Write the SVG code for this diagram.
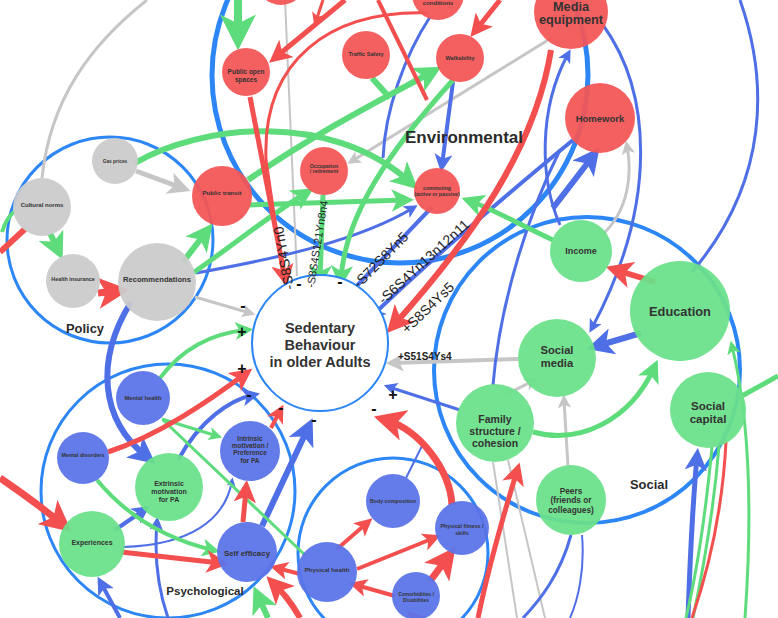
<svg xmlns="http://www.w3.org/2000/svg" width="778" height="618" viewBox="0 0 778 618">
<style>
.ring{fill:none;stroke:#2d86f5}
.e{fill:none;stroke-linecap:butt}
.r{stroke:#f44f4f}.g{stroke:#5edc7c}.b{stroke:#4f6fe6}.y{stroke:#c6c6c6}
.nr{fill:#f35656;fill-opacity:0.94}.ng{fill:#6ae08a;fill-opacity:0.94}.nb{fill:#5a74e8;fill-opacity:0.94}.ny{fill:#cbcbcb;fill-opacity:0.94}
text{font-family:"Liberation Sans",Arial,sans-serif;font-weight:bold;fill:#333;text-anchor:middle}
.lab{font-weight:normal;fill:#1e1e1e}
.sg{font-size:16px;fill:#111}
.grp{fill:#2a2a2a}
</style>
<defs>
<marker id="mr" viewBox="0 0 10 10" refX="6" refY="5" markerWidth="4.5" markerHeight="4.5" orient="auto" markerUnits="strokeWidth"><path d="M0,0 L10,5 L0,10 L2.5,5 z" fill="#f44f4f"/></marker>
<marker id="mg" viewBox="0 0 10 10" refX="6" refY="5" markerWidth="4.5" markerHeight="4.5" orient="auto" markerUnits="strokeWidth"><path d="M0,0 L10,5 L0,10 L2.5,5 z" fill="#5edc7c"/></marker>
<marker id="mb" viewBox="0 0 10 10" refX="6" refY="5" markerWidth="4.5" markerHeight="4.5" orient="auto" markerUnits="strokeWidth"><path d="M0,0 L10,5 L0,10 L2.5,5 z" fill="#4f6fe6"/></marker>
<marker id="my" viewBox="0 0 10 10" refX="6" refY="5" markerWidth="4.5" markerHeight="4.5" orient="auto" markerUnits="strokeWidth"><path d="M0,0 L10,5 L0,10 L2.5,5 z" fill="#c6c6c6"/></marker>
</defs>
<rect width="778" height="618" fill="#ffffff"/>

<g id="groups">
<circle class="ring" cx="400" cy="75" r="188" stroke-width="5"/>
<circle class="ring" cx="110" cy="240" r="103" stroke-width="3"/>
<circle class="ring" cx="587" cy="370" r="153" stroke-width="4"/>
<circle class="ring" cx="168" cy="491" r="127" stroke-width="3"/>
<circle class="ring" cx="393" cy="553" r="95" stroke-width="3"/>
</g>

<g id="connectors">
<!-- gray -->
<path class="e y" stroke-width="3" d="M42,178 C50,100 90,45 147,0"/>
<path class="e y" stroke-width="5" d="M136,171 L182,188" marker-end="url(#my)"/>
<path class="e y" stroke-width="3" d="M195,297 L250,313" marker-end="url(#my)"/>
<path class="e y" stroke-width="2" d="M285,0 L297,276"/>
<path class="e y" stroke-width="3" d="M553,37 L352,161" marker-end="url(#my)"/>
<path class="e y" stroke-width="4" d="M518,359 L393,363" marker-end="url(#my)"/>
<path class="e y" stroke-width="3" d="M505,395 L533,381" marker-end="url(#my)"/>
<path class="e y" stroke-width="3" d="M568,466 L564,400" marker-end="url(#my)"/>
<path class="e y" stroke-width="3" d="M601,236 C630,210 632,172 627,146" marker-end="url(#my)"/>
<path class="e y" stroke-width="2" d="M493,462 L517,618"/>
<path class="e y" stroke-width="2" d="M508,460 L545,618"/>
<!-- blue -->
<path class="e b" stroke-width="3" d="M430,17 C405,55 385,110 383,158"/>
<path class="e b" stroke-width="4" d="M453,82 L442,165" marker-end="url(#mb)"/>
<path class="e b" stroke-width="3" d="M196,273 C280,258 360,240 413,208" marker-end="url(#mb)"/>
<path class="e b" stroke-width="4" d="M432,207 L349,294" marker-end="url(#mb)"/>
<path class="e b" stroke-width="4" d="M573,140 C500,200 420,270 373,315" marker-end="url(#mb)"/>
<path class="e b" stroke-width="6" d="M553,208 L593,156" marker-end="url(#mb)"/>
<path class="e b" stroke-width="3" d="M560,225 C540,180 538,110 568,54" marker-end="url(#mb)"/>
<path class="e b" stroke-width="3" d="M560,150 C530,210 500,300 493,385"/>
<path class="e b" stroke-width="3" d="M603,25 C650,90 660,200 592,328" marker-end="url(#mb)"/>
<path class="e b" stroke-width="3" d="M740,0 C768,80 770,180 692,272"/>
<path class="e b" stroke-width="6" d="M641,333 L597,346" marker-end="url(#mb)"/>
<path class="e b" stroke-width="3" d="M460,410 L389,387" marker-end="url(#mb)"/>
<path class="e b" stroke-width="4" d="M178,460 C200,420 230,400 253,395" marker-end="url(#mb)"/>
<path class="e b" stroke-width="6" d="M131,302 C95,360 100,420 147,457" marker-end="url(#mb)"/>
<path class="e b" stroke-width="4" d="M115,530 L144,510" marker-end="url(#mb)"/>
<path class="e b" stroke-width="2" d="M123,547 C190,545 225,520 232,481" marker-end="url(#mb)"/>
<path class="e b" stroke-width="3" d="M168,618 C155,580 155,545 157,522" marker-end="url(#mb)"/>
<path class="e b" stroke-width="4" d="M120,618 L101,583" marker-end="url(#mb)"/>
<path class="e b" stroke-width="6" d="M262,526 L308,428" marker-end="url(#mb)"/>
<path class="e b" stroke-width="2" d="M406,478 L423,444"/>
<path class="e b" stroke-width="3" d="M571,535 C560,575 540,600 523,618"/>
<path class="e b" stroke-width="2" d="M582,535 C585,570 578,600 570,618"/>
<path class="e b" stroke-width="5" d="M688,618 C690,560 693,500 697,457" marker-end="url(#mb)"/>
<!-- green -->
<path class="e g" stroke-width="8" d="M238,0 L238,36" marker-end="url(#mg)"/>
<path class="e g" stroke-width="6" d="M248,180 C320,130 390,95 432,72" marker-end="url(#mg)"/>
<path class="e g" stroke-width="6" d="M372,78 L390,98"/>
<path class="e g" stroke-width="6" d="M135,163 C200,125 330,110 410,182" marker-end="url(#mg)"/>
<path class="e g" stroke-width="5" d="M250,205 L405,200" marker-end="url(#mg)"/>
<path class="e g" stroke-width="6" d="M183,262 L206,232" marker-end="url(#mg)"/>
<path class="e g" stroke-width="5" d="M193,273 C240,240 270,215 306,193" marker-end="url(#mg)"/>
<path class="e g" stroke-width="5" d="M323,195 L320,279" marker-end="url(#mg)"/>
<path class="e g" stroke-width="5" d="M453,80 C390,150 345,215 341,279" marker-end="url(#mg)"/>
<path class="e g" stroke-width="6" d="M50,233 L58,250" marker-end="url(#mg)"/>
<path class="e g" stroke-width="4" d="M2,232 C5,222 10,215 15,211"/>
<path class="e g" stroke-width="4" d="M160,378 C185,345 215,333 246,330" marker-end="url(#mg)"/>
<path class="e g" stroke-width="3" d="M162,419 L217,436" marker-end="url(#mg)"/>
<path class="e g" stroke-width="3" d="M163,420 L305,555"/>
<path class="e g" stroke-width="4" d="M97,480 C130,520 170,540 213,550" marker-end="url(#mg)"/>
<path class="e g" stroke-width="6" d="M268,618 L258,596" marker-end="url(#mg)"/>
<path class="e g" stroke-width="5" d="M533,432 C580,445 630,420 654,368" marker-end="url(#mg)"/>
<path class="e g" stroke-width="3" d="M712,447 C705,520 695,580 686,618"/>
<path class="e g" stroke-width="3" d="M719,446 C713,520 701,580 693,618"/>
<path class="e g" stroke-width="3" d="M745,618 C752,520 750,420 732,346" marker-end="url(#mg)"/>
<path class="e g" stroke-width="5" d="M778,376 L740,397"/>
<path class="e g" stroke-width="5" d="M553,240 C520,225 495,210 470,201" marker-end="url(#mg)"/>
<!-- red -->
<path class="e r" stroke-width="3" d="M428,13 C330,10 262,60 266,160 L283,276"/>
<path class="e r" stroke-width="5" d="M250,97 L285,278" marker-end="url(#mr)"/>
<path class="e r" stroke-width="5" d="M345,0 L276,57" marker-end="url(#mr)"/>
<path class="e r" stroke-width="3" d="M323,0 L316,21" marker-end="url(#mr)"/>
<path class="e r" stroke-width="4" d="M378,0 L427,100"/>
<path class="e r" stroke-width="5" d="M500,0 L476,30" marker-end="url(#mr)"/>
<path class="e r" stroke-width="6" d="M551,50 C535,150 470,240 394,325" marker-end="url(#mr)"/>
<path class="e r" stroke-width="7" d="M98,293 L117,291" marker-end="url(#mr)"/>
<path class="e r" stroke-width="6" d="M25,229 L0,252"/>
<path class="e r" stroke-width="5" d="M108,452 C160,435 210,400 245,374" marker-end="url(#mr)"/>
<path class="e r" stroke-width="7" d="M0,478 C25,495 45,510 62,524" marker-end="url(#mr)"/>
<path class="e r" stroke-width="5" d="M121,552 L220,563" marker-end="url(#mr)"/>
<path class="e r" stroke-width="5" d="M243,522 L246,489" marker-end="url(#mr)"/>
<path class="e r" stroke-width="4" d="M271,428 L280,411" marker-end="url(#mr)"/>
<path class="e r" stroke-width="7" d="M452,505 C450,470 420,430 386,420" marker-end="url(#mr)"/>
<path class="e r" stroke-width="4" d="M300,574 L277,568" marker-end="url(#mr)"/>
<path class="e r" stroke-width="4" d="M337,549 L367,523" marker-end="url(#mr)"/>
<path class="e r" stroke-width="4" d="M357,569 L434,538" marker-end="url(#mr)"/>
<path class="e r" stroke-width="4" d="M395,596 L356,585" marker-end="url(#mr)"/>
<path class="e r" stroke-width="7" d="M430,581 L448,557" marker-end="url(#mr)"/>
<path class="e r" stroke-width="4" d="M422,625 L412,616" marker-end="url(#mr)"/>
<path class="e r" stroke-width="6" d="M300,618 C290,600 282,592 274,584" marker-end="url(#mr)"/>
<path class="e r" stroke-width="5" d="M478,618 C490,560 505,510 517,471" marker-end="url(#mr)"/>
<path class="e r" stroke-width="6" d="M655,282 L616,270" marker-end="url(#mr)"/>
<path class="e r" stroke-width="3" d="M726,442 C722,520 705,580 692,618"/>
</g>

<g id="central">
<circle cx="320" cy="343" r="68" fill="#ffffff" stroke="#2d86f5" stroke-width="2"/>
<text font-size="14.5" x="320" y="333">Sedentary</text>
<text font-size="14.5" x="320" y="350">Behaviour</text>
<text font-size="14.5" x="320" y="367">in older Adults</text>
</g>

<g id="n-top"><circle class="nr" cx="281" cy="-20" r="25"/></g>
<g id="n-conditions"><circle class="nr" cx="438" cy="-6" r="26"/><text font-size="6" x="438" y="5">conditions</text></g>
<g id="n-media"><circle class="nr" cx="571" cy="12" r="37"/><text font-size="12.7" x="571" y="11">Media</text><text font-size="12.7" x="571" y="24">equipment</text></g>
<g id="n-pos"><circle class="nr" cx="246" cy="72" r="24"/><text font-size="6.5" x="246" y="73.5">Public open</text><text font-size="6.5" x="246" y="81.5">spaces</text></g>
<g id="n-traffic"><circle class="nr" cx="366" cy="55" r="24"/><text font-size="5.6" x="366" y="56">Traffic Safety</text></g>
<g id="n-walk"><circle class="nr" cx="460" cy="58" r="24"/><text font-size="5.6" x="460" y="60">Walkability</text></g>
<g id="n-occ"><circle class="nr" cx="324" cy="171" r="24"/><text font-size="5.2" x="324" y="167.5">Occupation</text><text font-size="5.2" x="324" y="173">/ retirement</text></g>
<g id="n-comm"><circle class="nr" cx="437" cy="191" r="23"/><text font-size="5.2" x="437" y="190">commuting</text><text font-size="5.2" x="437" y="195.5">(active or passive)</text></g>
<g id="n-transit"><circle class="nr" cx="222" cy="196" r="30"/><text font-size="6.2" x="222" y="195">Public transit</text></g>
<g id="n-homework"><circle class="nr" cx="600" cy="118" r="35"/><text font-size="9.5" x="600" y="122">Homework</text></g>

<g id="n-gas"><circle class="ny" cx="115" cy="161" r="23"/><text font-size="4.8" x="115" y="162.5">Gas prices</text></g>
<g id="n-cultural"><circle class="ny" cx="42" cy="207" r="29"/><text font-size="6" x="42" y="207">Cultural norms</text></g>
<g id="n-health-ins"><circle class="ny" cx="73" cy="281" r="27"/><text font-size="5.4" x="73" y="281">Health insurance</text></g>
<g id="n-recom"><circle class="ny" cx="157" cy="282" r="39"/><text font-size="7.6" x="157" y="282">Recommendations</text></g>

<g id="n-income"><circle class="ng" cx="581" cy="251" r="31"/><text font-size="9" x="581" y="254">Income</text></g>
<g id="n-education"><circle class="ng" cx="680" cy="311" r="50"/><text font-size="12.8" x="680" y="316">Education</text></g>
<g id="n-socialmedia"><circle class="ng" cx="557" cy="358" r="39"/><text font-size="11.2" x="557" y="354">Social</text><text font-size="11.2" x="557" y="367">media</text></g>
<g id="n-socialcap"><circle class="ng" cx="708" cy="410" r="38"/><text font-size="11.6" x="708" y="410">Social</text><text font-size="11.6" x="708" y="423">capital</text></g>
<g id="n-family"><circle class="ng" cx="495" cy="423" r="39"/><text font-size="10.5" x="495" y="423">Family</text><text font-size="10.5" x="495" y="435">structure /</text><text font-size="10.5" x="495" y="447">cohesion</text></g>
<g id="n-peers"><circle class="ng" cx="571" cy="500" r="35"/><text font-size="8.3" x="571" y="494">Peers</text><text font-size="8.3" x="571" y="503">(friends or</text><text font-size="8.3" x="571" y="513">colleagues)</text></g>
<g id="n-extrinsic"><circle class="ng" cx="169" cy="487" r="34"/><text font-size="7" x="169" y="486">Extrinsic</text><text font-size="7" x="169" y="494">motivation</text><text font-size="7" x="169" y="502">for PA</text></g>
<g id="n-experiences"><circle class="ng" cx="92" cy="544" r="33"/><text font-size="7" x="92" y="545">Experiences</text></g>

<g id="n-mentalhealth"><circle class="nb" cx="143" cy="398" r="27"/><text font-size="5.8" x="143" y="400">Mental health</text></g>
<g id="n-mentaldis"><circle class="nb" cx="83" cy="458" r="26"/><text font-size="5.4" x="83" y="457">Mental disorders</text></g>
<g id="n-intrinsic"><circle class="nb" cx="250" cy="451" r="30"/><text font-size="6.5" x="250" y="441">Intrinsic</text><text font-size="6.5" x="250" y="448">motivation /</text><text font-size="6.5" x="250" y="455">Preference</text><text font-size="6.5" x="250" y="463">for PA</text></g>
<g id="n-selfeff"><circle class="nb" cx="247" cy="552" r="30"/><text font-size="7.9" x="247" y="556">Self efficacy</text></g>
<g id="n-physhealth"><circle class="nb" cx="327" cy="572" r="30"/><text font-size="6.2" x="327" y="571.5">Physical health</text></g>
<g id="n-body"><circle class="nb" cx="393" cy="501" r="27"/><text font-size="5.3" x="393" y="503">Body composition</text></g>
<g id="n-fitness"><circle class="nb" cx="462" cy="528" r="27"/><text font-size="5.3" x="462" y="528">Physical fitness /</text><text font-size="5.3" x="462" y="535">skills</text></g>
<g id="n-comorb"><circle class="nb" cx="416" cy="596" r="24"/><text font-size="4.9" x="416" y="596">Comorbidities /</text><text font-size="4.9" x="416" y="601.5">Disabilities</text></g>

<g id="group-labels">
<text class="grp" font-size="17" x="464" y="143">Environmental</text>
<text class="grp" font-size="12.9" x="85" y="333">Policy</text>
<text class="grp" font-size="11.5" x="205" y="595">Psychological</text>
<text class="grp" font-size="12.9" x="649" y="489">Social</text>
</g>

<g id="edge-labels">
<text class="lab" font-size="14" transform="translate(284,258) rotate(-100)" dy="4.5">-S8S4Yn0</text>
<text class="lab" font-size="11" transform="translate(317,244) rotate(-81)" dy="4">-S8S4S121Yn8n4</text>
<text class="lab" font-size="14" transform="translate(381,260) rotate(-45.5)" dy="4.5">-S72S8Yn5</text>
<text class="lab" font-size="14" transform="translate(424,262) rotate(-42.4)" dy="4.5">-S6S4Yn13n12n11</text>
<text class="lab" font-size="14" transform="translate(428,308) rotate(-44)" dy="4.5">+S8S4Ys5</text>
<text font-size="10" x="398" y="360" style="text-anchor:start;fill:#222">+S51S4Ys4</text>
<text class="sg" x="243" y="311">-</text>
<text class="sg" x="299" y="289">-</text>
<text class="sg" x="340" y="287">-</text>
<text class="sg" x="249" y="400">-</text>
<text class="sg" x="281" y="413">-</text>
<text class="sg" x="374" y="414">-</text>
<text class="sg" x="314" y="425">-</text>
<text class="sg" x="242" y="337">+</text>
<text class="sg" x="242" y="374">+</text>
<text class="sg" x="393" y="400">+</text>
</g>
</svg>
